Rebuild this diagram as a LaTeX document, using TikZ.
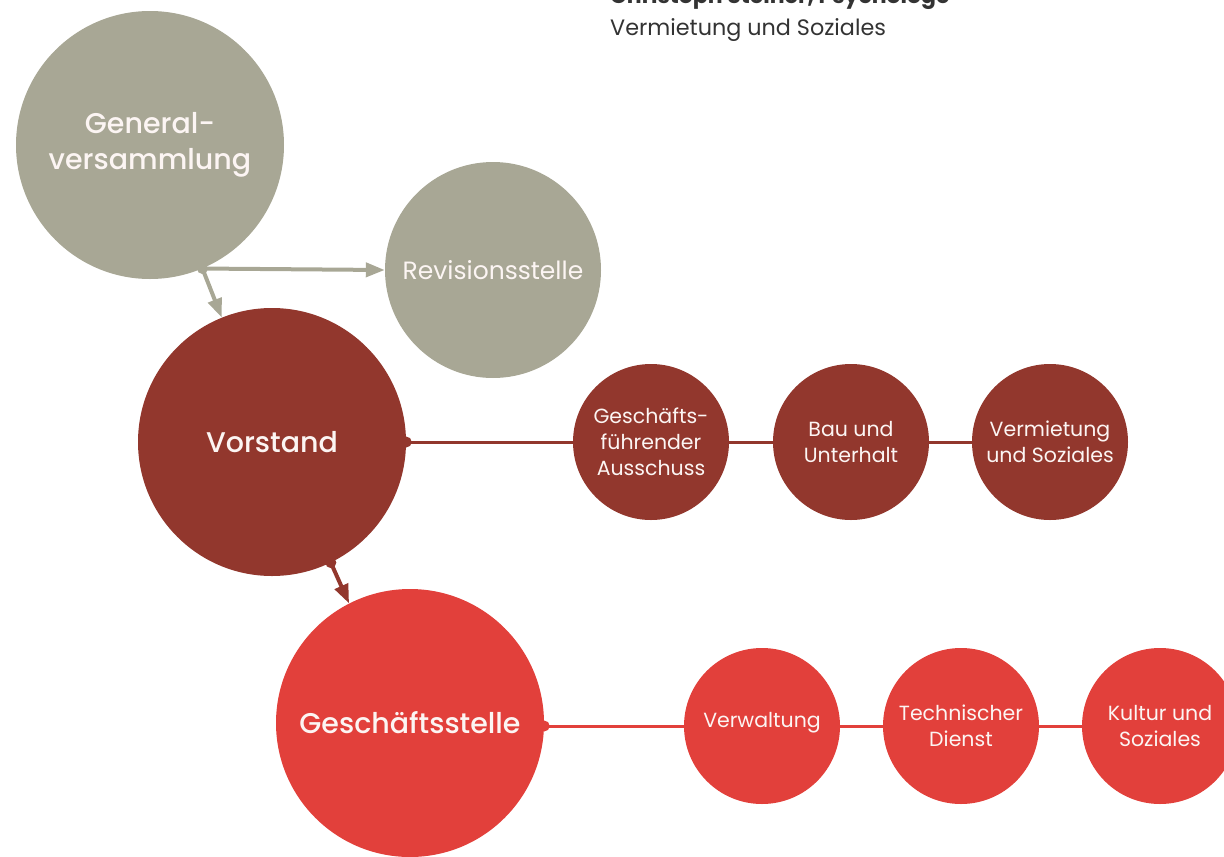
\documentclass[tikz,border=0pt]{standalone}
\usepackage{fontspec}
\setmainfont{Poppins}
\newfontfamily\medfont{Poppins Medium}
\usetikzlibrary{arrows.meta}
\definecolor{gvgrey}{HTML}{A8A795}
\definecolor{darkred}{HTML}{92372D}
\definecolor{brightred}{HTML}{E2403B}
\definecolor{txtwhite}{HTML}{FCF5F3}
\definecolor{toptext}{HTML}{333333}
\tikzset{
  bigcirc/.style={circle,inner sep=0pt,minimum size=268pt,text=txtwhite,align=center,font=\medfont\fontsize{28.5}{36}\selectfont},
  midcirc/.style={circle,inner sep=0pt,minimum size=216pt,text=txtwhite,align=center,font=\fontsize{25}{30}\selectfont},
  smallcirc/.style={circle,inner sep=0pt,minimum size=156pt,text=txtwhite,align=center,font=\fontsize{20.5}{26}\selectfont},
  link/.style={line width=3pt},
  arr/.style={line width=4pt,-{Triangle[length=19pt,width=14pt]}},
}
\begin{document}
\begin{tikzpicture}[x=1pt,y=-1pt]
\useasboundingbox (0,0) rectangle (1224,857);
% top text
\node[anchor=base west,inner sep=0pt,text=toptext,font=\bfseries\fontsize{22}{26}\selectfont] (name) at (610,3) {Christoph Steiner, Psychologe};
\node[anchor=base west,inner sep=0pt,text=toptext,font=\fontsize{22.3}{26}\selectfont] (role) at (610,35) {Vermietung und Soziales};
% big circles
\node[bigcirc,fill=gvgrey] (gv) at (150,145) {General-\\versammlung};
\node[midcirc,fill=gvgrey] (rev) at (493,270) {Revisionsstelle};
\node[bigcirc,fill=darkred] (vor) at (272,442) {Vorstand};
\node[bigcirc,fill=brightred] (gs) at (410,723) {Geschäftsstelle};
% small circles, Vorstand row
\node[smallcirc,fill=darkred] (gfa) at (651,442) {Geschäfts-\\führender\\Ausschuss};
\node[smallcirc,fill=darkred] (bau) at (851,442) {Bau und\\Unterhalt};
\node[smallcirc,fill=darkred] (verm) at (1050,442) {Vermietung\\und Soziales};
% small circles, Geschaeftsstelle row
\node[smallcirc,fill=brightred] (verw) at (762,726) {\raisebox{12pt}{Verwaltung}};
\node[smallcirc,fill=brightred] (tech) at (961,726) {Technischer\\Dienst};
\node[smallcirc,fill=brightred] (kult) at (1160,726) {Kultur und\\Soziales};
% connectors
\draw[link,darkred] (vor.east) -- (gfa.west);
\draw[link,darkred] (gfa.east) -- (bau.west);
\draw[link,darkred] (bau.east) -- (verm.west);
\fill[darkred] (vor.east) circle (5.5);
\coordinate (gsout) at ([yshift=-3pt]gs.east);
\draw[link,brightred] (gsout) -- (verw.west);
\draw[link,brightred] (verw.east) -- (tech.west);
\draw[link,brightred] (tech.east) -- (kult.west);
\fill[brightred] (gsout) circle (5.5);
\coordinate (gvout) at (gv.-67.4);
\draw[arr,gvgrey] (gvout) -- (rev.west);
\draw[arr,gvgrey] (gvout) -- (vor.112);
\fill[gvgrey] (gvout) circle (5.5);
\coordinate (vorout) at (vor.-64.7);
\draw[arr,darkred] (vorout) -- (gs.117);
\fill[darkred] (vorout) circle (5.5);
\end{tikzpicture}
\end{document}
